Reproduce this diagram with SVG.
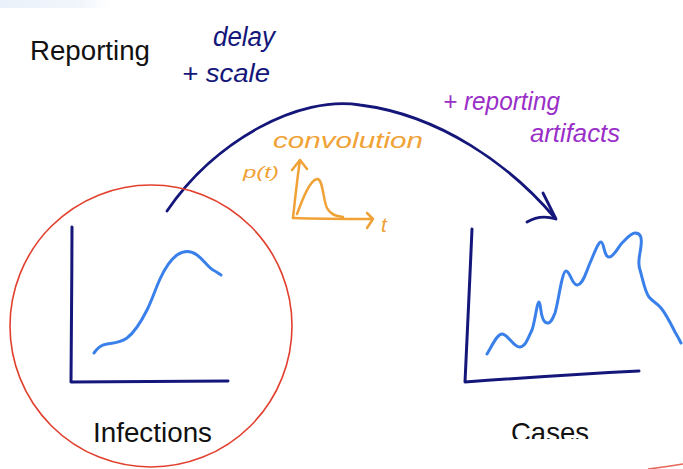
<svg xmlns="http://www.w3.org/2000/svg" width="683" height="469" viewBox="0 0 683 469">
<defs>
<linearGradient id="band" x1="0" y1="0" x2="1" y2="0">
<stop offset="0" stop-color="#eaf1fa"/>
<stop offset="0.7" stop-color="#f0f5fb"/>
<stop offset="1" stop-color="#ffffff"/>
</linearGradient>
<clipPath id="clipCases"><rect x="0" y="0" width="683" height="439"/></clipPath>
</defs>
<style>
.label{font-family:"Liberation Sans",Arial,sans-serif;font-size:27.5px;fill:#111}
.hand{font-family:"Liberation Sans",Arial,sans-serif;font-style:italic}
.navy{fill:#14167a}
.purple{fill:#9a2fc8}
.orange{fill:#f0a236}
.axis{fill:none;stroke:#14167a;stroke-width:3;stroke-linecap:round;stroke-linejoin:round}
.curve{fill:none;stroke:#3a80ea;stroke-width:3;stroke-linecap:round;stroke-linejoin:round}
.orl{fill:none;stroke:#f0a236;stroke-width:2.5;stroke-linecap:round;stroke-linejoin:round}
</style>
<rect width="683" height="469" fill="#ffffff"/>
<rect x="0" y="0" width="110" height="8" fill="url(#band)"/>

<text class="label" x="30" y="60" textLength="120" lengthAdjust="spacingAndGlyphs">Reporting</text>

<g id="delay-scale">
<text class="hand navy" x="213" y="46" font-size="27" textLength="62" lengthAdjust="spacingAndGlyphs">delay</text>
<text class="hand navy" x="182" y="82" font-size="25" textLength="88" lengthAdjust="spacingAndGlyphs">+ scale</text>
</g>

<g id="reporting-artifacts">
<text class="hand purple" x="443" y="110" font-size="25" textLength="117" lengthAdjust="spacingAndGlyphs">+ reporting</text>
<text class="hand purple" x="530" y="142" font-size="25" textLength="90" lengthAdjust="spacingAndGlyphs">artifacts</text>
</g>

<g id="convolution">
<text class="hand orange" x="273" y="148" font-size="22" textLength="150" lengthAdjust="spacingAndGlyphs">convolution</text>
<text class="hand orange" x="243" y="178" font-size="17" textLength="36" lengthAdjust="spacingAndGlyphs">p(t)</text>
<text class="hand orange" x="381" y="232" font-size="21">t</text>
<path class="orl" d="M293,218 C295,200 297,180 300,160 M292,170 L300,160 L307,169"/>
<path class="orl" d="M293,218 C320,219 345,219 373,219 M367,213 L373,219 L367,228"/>
<path class="orl" d="M297,214 C303,198 310,180 317,179 C323,178 323,200 327,208 C331,215 336,216 343,217"/>
</g>

<g id="connectors">
<path d="M167,211 C215,140 300,95 360,105 C440,115 510,165 555,218" fill="none" stroke="#14167a" stroke-width="2.8" stroke-linecap="round"/>
<path d="M543,193 L556,219 M527,222 Q540,214 556,219" fill="none" stroke="#14167a" stroke-width="2.8" stroke-linecap="round" stroke-linejoin="round"/>
</g>

<g id="infections">
<circle cx="151" cy="326" r="141" fill="none" stroke="#e2402f" stroke-width="1.6"/>
<path class="axis" d="M72,227 C72,280 71,340 71,382 L228,381"/>
<path class="curve" d="M94,353 C97,349 100,345 107,344 C113,343 120,343 127,338 C135,332 142,320 147,310 C152,300 155,290 160,279 C165,268 170,260 177,255 C183,251 190,250 197,255 C204,260 207,266 213,270 C217,272 219,274 221,275"/>
<text class="label" x="93" y="442" textLength="119" lengthAdjust="spacingAndGlyphs">Infections</text>
</g>

<g id="cases">
<path class="axis" d="M472,229 C470,280 467,330 465,382 C520,378 580,374 639,371"/>
<path class="curve" d="M487,354 C492,346 497,334 502,334 C508,334 514,348 520,347 C526,346 528,338 532,330 C535,322 537,302 539,302 C541,302 540,318 545,322 C550,326 553,318 555,313 C558,304 562,271 566,271 C570,271 572,285 577,285 C583,285 586,272 590,263 C594,254 598,242 601,242 C604,242 604,257 609,257 C614,257 618,247 622,243 C627,238 631,233 635,233 C641,233 642,238 641,246 C640,256 637,262 640,270 C643,280 645,292 649,297 C653,302 657,303 661,308 C666,314 670,322 675,332 C678,337 680,341 681,343"/>
<text class="label" x="511" y="442" clip-path="url(#clipCases)">Cases</text>
</g>

<path d="M648,469 Q665,467 683,464" fill="none" stroke="#e2402f" stroke-width="1.6" opacity="0.8"/>
</svg>
